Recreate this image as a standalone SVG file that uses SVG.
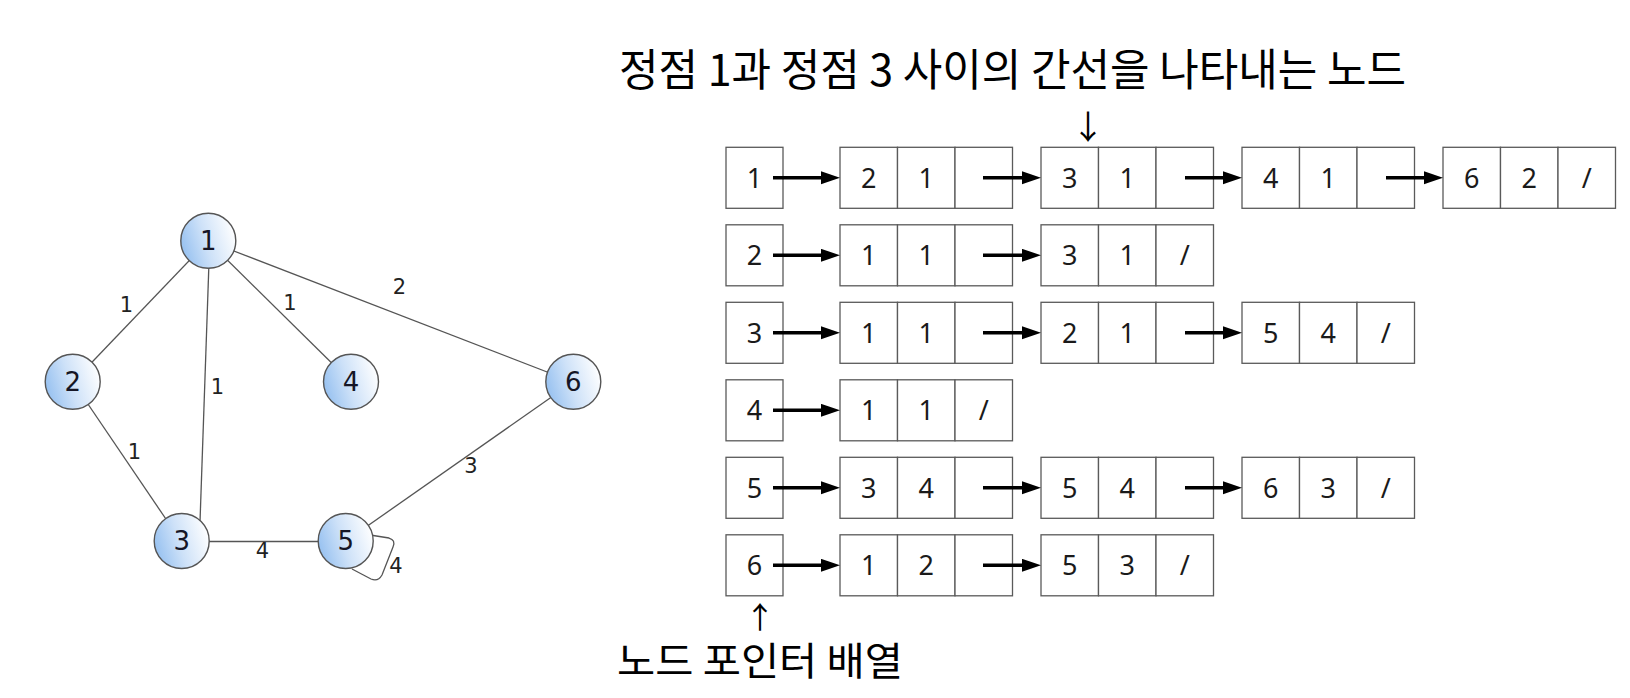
<svg xmlns="http://www.w3.org/2000/svg" width="1630" height="698" viewBox="0 0 1630 698">
<defs>
<linearGradient id="nodeFill" x1="0" y1="0.65" x2="1" y2="0.35">
<stop offset="0" stop-color="#95c0f0"/>
<stop offset="0.45" stop-color="#cde1f8"/>
<stop offset="1" stop-color="#ffffff"/>
</linearGradient>
<marker id="ah" markerUnits="userSpaceOnUse" markerWidth="20" markerHeight="14" refX="0" refY="6.5" orient="auto">
<path d="M0,0 L19,6.5 L0,13 z" fill="#000"/>
</marker>
</defs>
<style>
.gnode{fill:url(#nodeFill);stroke:#555;stroke-width:1.4}
.gedge{stroke:#555;stroke-width:1.3;fill:none}
.nlabel{font-family:"DejaVu Sans","Noto Sans",sans-serif;font-size:26px;fill:#161626;text-anchor:middle;dominant-baseline:central}
.elabel{font-family:"DejaVu Sans","Noto Sans",sans-serif;font-size:21px;fill:#222;text-anchor:middle;dominant-baseline:central}
.cell{fill:#fff;stroke:#5a5a5a;stroke-width:1.3}
.ct{font-family:"Noto Sans","Open Sans",sans-serif;font-weight:400;font-size:27px;fill:#1a1a1a;text-anchor:middle}
.ptr{stroke:#000;stroke-width:3.4;fill:none;marker-end:url(#ah)}
.kt{font-family:"Noto Sans CJK KR","Noto Sans",sans-serif;fill:#000;text-anchor:middle}
</style>
<rect width="1630" height="698" fill="#fff"/>

<g id="graph-edges">
<line class="gedge" x1="208" y1="241" x2="73" y2="382"/>
<line class="gedge" x1="209" y1="262" x2="200" y2="522"/>
<line class="gedge" x1="208" y1="241" x2="351" y2="382"/>
<line class="gedge" x1="208" y1="241" x2="573" y2="382"/>
<line class="gedge" x1="73" y1="382" x2="172" y2="528"/>
<line class="gedge" x1="182" y1="541.5" x2="346" y2="541.5"/>
<line class="gedge" x1="346" y1="541" x2="573" y2="382"/>
<path class="gedge" d="M370 535 L389 538 Q396 540 393 547 L382 575 Q378 582 371 579 L352 569"/>
</g>
<g id="edge-labels">
<text class="elabel" x="126.5" y="305">1</text>
<text class="elabel" x="290" y="303">1</text>
<text class="elabel" x="217.5" y="387">1</text>
<text class="elabel" x="399.5" y="287">2</text>
<text class="elabel" x="134.5" y="451.5">1</text>
<text class="elabel" x="471" y="466">3</text>
<text class="elabel" x="262.5" y="551">4</text>
<text class="elabel" x="396" y="566">4</text>
</g>
<g id="v1"><circle class="gnode" cx="208.3" cy="240.7" r="27.5"/><text class="nlabel" x="208.3" y="240.7">1</text></g>
<g id="v2"><circle class="gnode" cx="72.7" cy="381.7" r="27.5"/><text class="nlabel" x="72.7" y="381.7">2</text></g>
<g id="v3"><circle class="gnode" cx="181.7" cy="541" r="27.5"/><text class="nlabel" x="181.7" y="541">3</text></g>
<g id="v4"><circle class="gnode" cx="351" cy="381.7" r="27.5"/><text class="nlabel" x="351" y="381.7">4</text></g>
<g id="v5"><circle class="gnode" cx="345.7" cy="541" r="27.5"/><text class="nlabel" x="345.7" y="541">5</text></g>
<g id="v6"><circle class="gnode" cx="573.3" cy="381.7" r="27.5"/><text class="nlabel" x="573.3" y="381.7">6</text></g>

<g id="title">
<text class="kt" x="1012.5" y="86" font-size="44" textLength="787" lengthAdjust="spacingAndGlyphs">정점 1과 정점 3 사이의 간선을 나타내는 노드</text>
<text class="kt" x="1088" y="139" font-size="33">↓</text>
</g>
<g id="footer">
<text class="kt" x="760" y="628" font-size="30">↑</text>
<text class="kt" x="760" y="675" font-size="39" textLength="286" lengthAdjust="spacingAndGlyphs">노드 포인터 배열</text>
</g>

<g id="h1"><rect class="cell" x="726" y="147.3" width="57" height="61"/><text class="ct" x="754.5" y="187.8">1</text></g>
<g id="h2"><rect class="cell" x="726" y="224.8" width="57" height="61"/><text class="ct" x="754.5" y="265.3">2</text></g>
<g id="h3"><rect class="cell" x="726" y="302.3" width="57" height="61"/><text class="ct" x="754.5" y="342.8">3</text></g>
<g id="h4"><rect class="cell" x="726" y="379.8" width="57" height="61"/><text class="ct" x="754.5" y="420.3">4</text></g>
<g id="h5"><rect class="cell" x="726" y="457.3" width="57" height="61"/><text class="ct" x="754.5" y="497.8">5</text></g>
<g id="h6"><rect class="cell" x="726" y="534.8" width="57" height="61"/><text class="ct" x="754.5" y="575.3">6</text></g>

<g id="r1n1"><rect class="cell" x="840" y="147.3" width="57.5" height="61"/><rect class="cell" x="897.5" y="147.3" width="57.5" height="61"/><rect class="cell" x="955" y="147.3" width="57.5" height="61"/><text class="ct" x="868.75" y="187.8">2</text><text class="ct" x="926.25" y="187.8">1</text></g>
<g id="r1n2"><rect class="cell" x="1041" y="147.3" width="57.5" height="61"/><rect class="cell" x="1098.5" y="147.3" width="57.5" height="61"/><rect class="cell" x="1156" y="147.3" width="57.5" height="61"/><text class="ct" x="1069.75" y="187.8">3</text><text class="ct" x="1127.25" y="187.8">1</text></g>
<g id="r1n3"><rect class="cell" x="1242" y="147.3" width="57.5" height="61"/><rect class="cell" x="1299.5" y="147.3" width="57.5" height="61"/><rect class="cell" x="1357" y="147.3" width="57.5" height="61"/><text class="ct" x="1270.75" y="187.8">4</text><text class="ct" x="1328.25" y="187.8">1</text></g>
<g id="r1n4"><rect class="cell" x="1443" y="147.3" width="57.5" height="61"/><rect class="cell" x="1500.5" y="147.3" width="57.5" height="61"/><rect class="cell" x="1558" y="147.3" width="57.5" height="61"/><text class="ct" x="1471.75" y="187.8">6</text><text class="ct" x="1529.25" y="187.8">2</text><text class="ct" x="1586.75" y="187.8">/</text></g>

<g id="r2n1"><rect class="cell" x="840" y="224.8" width="57.5" height="61"/><rect class="cell" x="897.5" y="224.8" width="57.5" height="61"/><rect class="cell" x="955" y="224.8" width="57.5" height="61"/><text class="ct" x="868.75" y="265.3">1</text><text class="ct" x="926.25" y="265.3">1</text></g>
<g id="r2n2"><rect class="cell" x="1041" y="224.8" width="57.5" height="61"/><rect class="cell" x="1098.5" y="224.8" width="57.5" height="61"/><rect class="cell" x="1156" y="224.8" width="57.5" height="61"/><text class="ct" x="1069.75" y="265.3">3</text><text class="ct" x="1127.25" y="265.3">1</text><text class="ct" x="1184.75" y="265.3">/</text></g>

<g id="r3n1"><rect class="cell" x="840" y="302.3" width="57.5" height="61"/><rect class="cell" x="897.5" y="302.3" width="57.5" height="61"/><rect class="cell" x="955" y="302.3" width="57.5" height="61"/><text class="ct" x="868.75" y="342.8">1</text><text class="ct" x="926.25" y="342.8">1</text></g>
<g id="r3n2"><rect class="cell" x="1041" y="302.3" width="57.5" height="61"/><rect class="cell" x="1098.5" y="302.3" width="57.5" height="61"/><rect class="cell" x="1156" y="302.3" width="57.5" height="61"/><text class="ct" x="1069.75" y="342.8">2</text><text class="ct" x="1127.25" y="342.8">1</text></g>
<g id="r3n3"><rect class="cell" x="1242" y="302.3" width="57.5" height="61"/><rect class="cell" x="1299.5" y="302.3" width="57.5" height="61"/><rect class="cell" x="1357" y="302.3" width="57.5" height="61"/><text class="ct" x="1270.75" y="342.8">5</text><text class="ct" x="1328.25" y="342.8">4</text><text class="ct" x="1385.75" y="342.8">/</text></g>

<g id="r4n1"><rect class="cell" x="840" y="379.8" width="57.5" height="61"/><rect class="cell" x="897.5" y="379.8" width="57.5" height="61"/><rect class="cell" x="955" y="379.8" width="57.5" height="61"/><text class="ct" x="868.75" y="420.3">1</text><text class="ct" x="926.25" y="420.3">1</text><text class="ct" x="983.75" y="420.3">/</text></g>

<g id="r5n1"><rect class="cell" x="840" y="457.3" width="57.5" height="61"/><rect class="cell" x="897.5" y="457.3" width="57.5" height="61"/><rect class="cell" x="955" y="457.3" width="57.5" height="61"/><text class="ct" x="868.75" y="497.8">3</text><text class="ct" x="926.25" y="497.8">4</text></g>
<g id="r5n2"><rect class="cell" x="1041" y="457.3" width="57.5" height="61"/><rect class="cell" x="1098.5" y="457.3" width="57.5" height="61"/><rect class="cell" x="1156" y="457.3" width="57.5" height="61"/><text class="ct" x="1069.75" y="497.8">5</text><text class="ct" x="1127.25" y="497.8">4</text></g>
<g id="r5n3"><rect class="cell" x="1242" y="457.3" width="57.5" height="61"/><rect class="cell" x="1299.5" y="457.3" width="57.5" height="61"/><rect class="cell" x="1357" y="457.3" width="57.5" height="61"/><text class="ct" x="1270.75" y="497.8">6</text><text class="ct" x="1328.25" y="497.8">3</text><text class="ct" x="1385.75" y="497.8">/</text></g>

<g id="r6n1"><rect class="cell" x="840" y="534.8" width="57.5" height="61"/><rect class="cell" x="897.5" y="534.8" width="57.5" height="61"/><rect class="cell" x="955" y="534.8" width="57.5" height="61"/><text class="ct" x="868.75" y="575.3">1</text><text class="ct" x="926.25" y="575.3">2</text></g>
<g id="r6n2"><rect class="cell" x="1041" y="534.8" width="57.5" height="61"/><rect class="cell" x="1098.5" y="534.8" width="57.5" height="61"/><rect class="cell" x="1156" y="534.8" width="57.5" height="61"/><text class="ct" x="1069.75" y="575.3">5</text><text class="ct" x="1127.25" y="575.3">3</text><text class="ct" x="1184.75" y="575.3">/</text></g>

<g id="pointers">
<line class="ptr" x1="773" y1="177.8" x2="821" y2="177.8"/>
<line class="ptr" x1="983" y1="177.8" x2="1022" y2="177.8"/>
<line class="ptr" x1="1185" y1="177.8" x2="1223" y2="177.8"/>
<line class="ptr" x1="1386" y1="177.8" x2="1424" y2="177.8"/>
<line class="ptr" x1="773" y1="255.3" x2="821" y2="255.3"/>
<line class="ptr" x1="983" y1="255.3" x2="1022" y2="255.3"/>
<line class="ptr" x1="773" y1="332.8" x2="821" y2="332.8"/>
<line class="ptr" x1="983" y1="332.8" x2="1022" y2="332.8"/>
<line class="ptr" x1="1185" y1="332.8" x2="1223" y2="332.8"/>
<line class="ptr" x1="773" y1="410.3" x2="821" y2="410.3"/>
<line class="ptr" x1="773" y1="487.8" x2="821" y2="487.8"/>
<line class="ptr" x1="983" y1="487.8" x2="1022" y2="487.8"/>
<line class="ptr" x1="1185" y1="487.8" x2="1223" y2="487.8"/>
<line class="ptr" x1="773" y1="565.3" x2="821" y2="565.3"/>
<line class="ptr" x1="983" y1="565.3" x2="1022" y2="565.3"/>
</g>
</svg>
